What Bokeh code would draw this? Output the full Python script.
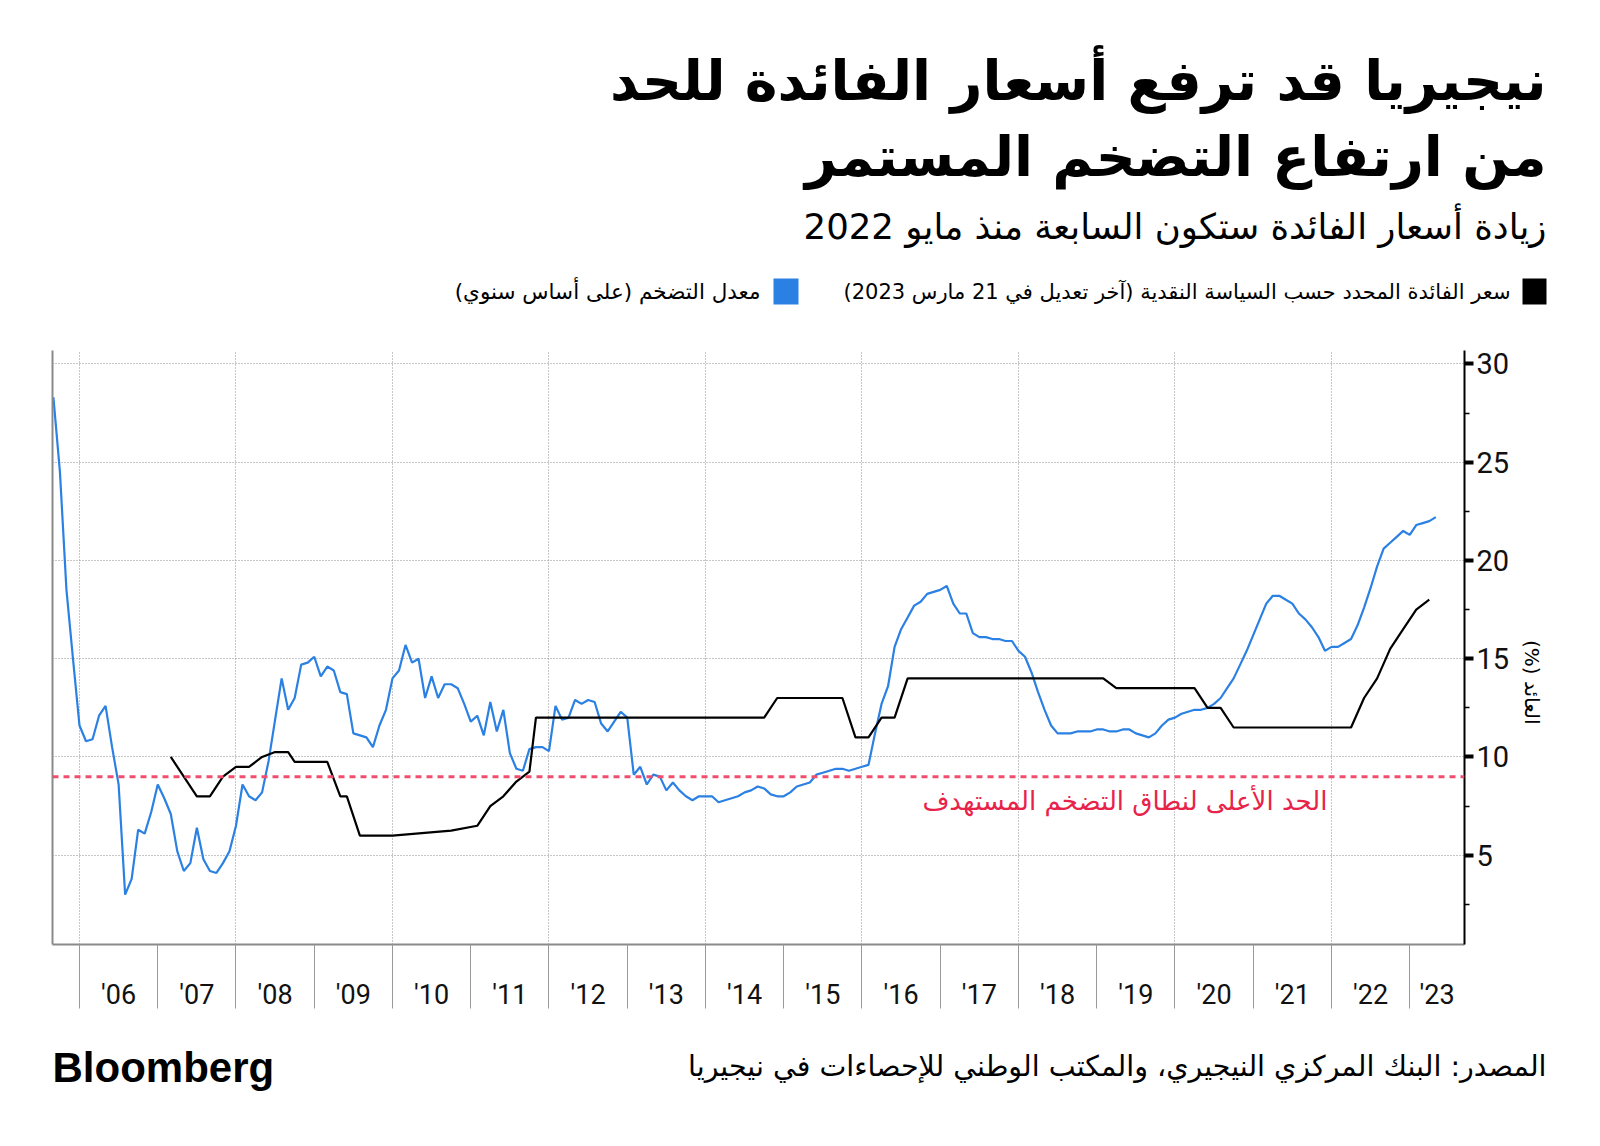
import math
import pandas as pd
from bokeh.plotting import figure
from bokeh.layouts import column, row
from bokeh.models import Range1d, FixedTicker, LinearAxis, Span, Label
from bokeh.core.properties import value
from bokeh.embed import file_html
from bokeh.resources import INLINE

RLM = "\u200f"

# ---------------- texts ----------------
title_line1 = "نيجيريا قد ترفع أسعار الفائدة للحد"
title_line2 = "من ارتفاع التضخم المستمر"
subtitle = "زيادة أسعار الفائدة ستكون السابعة منذ مايو 2022"
legend_rate = "سعر الفائدة المحدد حسب السياسة النقدية (آخر تعديل في 21 مارس 2023)"
legend_cpi = "معدل التضخم (على أساس سنوي)"
y_label = "العائد (%)"
target_label = "الحد الأعلى لنطاق التضخم المستهدف"
source_text = "المصدر: البنك المركزي النيجيري، والمكتب الوطني للإحصاءات في نيجيريا"
brand = "Bloomberg"

# ---------------- axes ----------------
years = list(range(2006, 2024))
year_labels = ["'06", "'07", "'08", "'09", "'10", "'11", "'12", "'13", "'14",
               "'15", "'16", "'17", "'18", "'19", "'20", "'21", "'22", "'23"]
y_ticks = [5, 10, 15, 20, 25, 30]

# ---------------- data ----------------
# Inflation, y/y %, monthly from Aug 2005 to Apr 2023
inflation_start = "2005-08"
inflation_2005 = [28.3, 24.5, 18.5, 15.0, 11.6]
inflation_2006 = [10.8, 10.9, 12.1, 12.6, 10.5, 8.6, 3.0, 3.8, 6.3, 6.1, 7.2, 8.6]
inflation_2007 = [7.9, 7.1, 5.2, 4.2, 4.6, 6.4, 4.8, 4.2, 4.1, 4.6, 5.2, 6.5]
inflation_2008 = [8.6, 8.0, 7.8, 8.2, 9.8, 11.9, 14.0, 12.4, 13.0, 14.7, 14.8, 15.1]
inflation_2009 = [14.1, 14.6, 14.4, 13.3, 13.2, 11.2, 11.1, 11.0, 10.5, 11.6, 12.4, 14.0]
inflation_2010 = [14.4, 15.7, 14.8, 15.0, 13.0, 14.1, 13.0, 13.7, 13.7, 13.5, 12.7, 11.8]
inflation_2011 = [12.1, 11.1, 12.8, 11.3, 12.4, 10.2, 9.4, 9.3, 10.4, 10.5, 10.5, 10.3]
inflation_2012 = [12.6, 11.9, 12.0, 12.9, 12.7, 12.9, 12.8, 11.7, 11.3, 11.8, 12.3, 12.0]
inflation_2013 = [9.1, 9.5, 8.6, 9.1, 9.0, 8.3, 8.7, 8.3, 8.0, 7.8, 8.0, 8.0]
inflation_2014 = [8.0, 7.7, 7.8, 7.9, 8.0, 8.2, 8.3, 8.5, 8.4, 8.1, 8.0, 8.0]
inflation_2015 = [8.2, 8.5, 8.6, 8.7, 9.1, 9.2, 9.3, 9.4, 9.4, 9.3, 9.4, 9.5]
inflation_2016 = [9.6, 11.2, 12.7, 13.6, 15.6, 16.5, 17.1, 17.7, 17.9, 18.3, 18.4, 18.5]
inflation_2017 = [18.7, 17.8, 17.3, 17.3, 16.3, 16.1, 16.1, 16.0, 16.0, 15.9, 15.9, 15.4]
inflation_2018 = [15.1, 14.3, 13.3, 12.4, 11.6, 11.2, 11.2, 11.2, 11.3, 11.3, 11.3, 11.4]
inflation_2019 = [11.4, 11.3, 11.3, 11.4, 11.4, 11.2, 11.1, 11.0, 11.2, 11.6, 11.9, 12.0]
inflation_2020 = [12.2, 12.3, 12.4, 12.4, 12.5, 12.7, 13.0, 13.5, 14.0, 14.7, 15.4, 16.2]
inflation_2021 = [17.0, 17.8, 18.2, 18.2, 18.0, 17.8, 17.3, 17.0, 16.6, 16.1, 15.4, 15.6]
inflation_2022 = [15.6, 15.8, 16.0, 16.7, 17.6, 18.6, 19.7, 20.6, 20.9, 21.2, 21.5, 21.3]
inflation_2023 = [21.8, 21.9, 22.0, 22.2]

# Monetary policy rate, %, at the end of the listed months
rate_months = ["2007-02", "2007-06", "2007-08", "2007-10", "2007-12", "2008-02", "2008-04",
               "2008-06", "2008-08", "2008-09", "2009-02", "2009-04", "2009-05", "2009-07",
               "2009-12", "2010-09", "2011-01", "2011-03", "2011-05", "2011-07", "2011-09",
               "2011-10", "2014-09", "2014-11", "2015-09", "2015-11", "2016-01", "2016-03",
               "2016-05", "2016-07", "2019-01", "2019-03", "2020-03", "2020-05", "2020-07",
               "2020-09", "2022-03", "2022-05", "2022-07", "2022-09", "2022-11", "2023-01",
               "2023-03"]
rate_values = [10.0, 8.0, 8.0, 9.0, 9.5, 9.5, 10.0,
               10.25, 10.25, 9.75, 9.75, 8.0, 8.0, 6.0,
               6.0, 6.25, 6.5, 7.5, 8.0, 8.75, 9.25,
               12.0, 12.0, 13.0, 13.0, 11.0, 11.0, 12.0,
               12.0, 14.0, 14.0, 13.5, 13.5, 12.5, 12.5,
               11.5, 11.5, 13.0, 14.0, 15.5, 16.5, 17.5,
               18.0]

target_upper = 9.0

# ---------------- build ----------------
inflation = (inflation_2005 + inflation_2006 + inflation_2007 + inflation_2008 + inflation_2009
             + inflation_2010 + inflation_2011 + inflation_2012 + inflation_2013 + inflation_2014
             + inflation_2015 + inflation_2016 + inflation_2017 + inflation_2018 + inflation_2019
             + inflation_2020 + inflation_2021 + inflation_2022 + inflation_2023)
periods = pd.period_range(inflation_start, periods=len(inflation), freq="M")
x_inf = [p_.year + p_.month / 12 for p_ in periods]


def month_end(s):
    y, m = s.split("-")
    return int(y) + int(m) / 12


x_rate = [month_end(s) for s in rate_months]

BLUE = "#2b80e3"
FONT = "DejaVu Sans"
NUM_FONT = "Roboto"
W = 1584


def blank(width, height):
    f = figure(width=width, height=height, x_range=Range1d(0, width), y_range=Range1d(height, 0),
               output_backend="svg", toolbar_location=None, x_axis_type=None, y_axis_type=None,
               min_border=0, outline_line_color=None, background_fill_color="white",
               border_fill_color="white")
    f.grid.visible = False
    return f


def txt(f, text, x, y, size, font=FONT, style="normal", color="#000000", align="right",
        baseline="alphabetic", angle=0.0):
    f.text(x=[x], y=[y], text=[text], text_font=value(font), text_font_size=value(size),
           text_font_style=style, text_color=color, text_align=align,
           text_baseline=baseline, angle=angle)


# ---------------- header (pixel coordinates) ----------------
HEAD_H = 340
head = blank(W, HEAD_H)
txt(head, title_line1, 1546, 80, "55.5px", style="bold")
txt(head, title_line2, 1546, 156, "55.5px", style="bold")
txt(head, subtitle, 1546, 226, "35.5px")
head.quad(left=[1522], right=[1546], top=[278], bottom=[304], fill_color="black", line_color=None)
txt(head, legend_rate + RLM, 1510, 291, "21px", baseline="middle")
head.quad(left=[773], right=[798], top=[278], bottom=[304], fill_color=BLUE, line_color=None)
txt(head, legend_cpi + RLM, 760, 291, "21.5px", baseline="middle")

# ---------------- main chart ----------------
X0, X1 = 2005.655, 2023.70
MAIN_W, MAIN_H = 1514, 684
p = figure(width=MAIN_W, height=MAIN_H, x_range=Range1d(X0, X1), y_range=Range1d(0.46, 30.68),
           output_backend="svg", toolbar_location=None, y_axis_location="right",
           min_border_left=52, min_border_right=50, min_border_top=10, min_border_bottom=80,
           outline_line_color=None, background_fill_color="white", border_fill_color="white")

p.xgrid.ticker = FixedTicker(ticks=years[::2])
p.ygrid.ticker = FixedTicker(ticks=y_ticks)
for g in (p.xgrid[0], p.ygrid[0]):
    g.grid_line_color = "#8f8f8f"
    g.grid_line_dash = "1 2"
    g.grid_line_width = 1

p.line(x_inf, inflation, line_color=BLUE, line_width=2.2)
p.line(x_rate, rate_values, line_color="black", line_width=2.2)
p.add_layout(Span(location=target_upper, dimension="width", line_color="#ef4f6d",
                  line_width=3, line_dash="6 5"))

mids = [round((max(y, X0) + min(y + 1, X1)) / 2, 4) for y in years]
xa = p.xaxis[0]
xa.ticker = FixedTicker(ticks=mids, minor_ticks=years)
xa.major_label_overrides = {m: lab for m, lab in zip(mids, year_labels)}
xa.axis_line_color = "#8a8a8a"
xa.axis_line_width = 2
xa.major_tick_line_color = None
xa.major_tick_out = 0
xa.major_tick_in = 0
xa.minor_tick_line_color = "#9a9a9a"
xa.minor_tick_line_width = 1
xa.minor_tick_out = 64
xa.minor_tick_in = 0
xa.major_label_standoff = -30
xa.major_label_text_font = NUM_FONT
xa.major_label_text_font_size = "27px"
xa.major_label_text_color = "#111111"

ya = p.yaxis[0]
ya.ticker = FixedTicker(ticks=y_ticks, minor_ticks=[t - 2.5 for t in y_ticks])
ya.axis_line_color = "black"
ya.axis_line_width = 2
ya.major_tick_line_color = "black"
ya.major_tick_line_width = 4
ya.major_tick_out = 9
ya.major_tick_in = 0
ya.minor_tick_line_color = "black"
ya.minor_tick_line_width = 1.5
ya.minor_tick_out = 5
ya.minor_tick_in = 0
ya.major_label_standoff = 3
ya.major_label_text_font = NUM_FONT
ya.major_label_text_font_size = "29px"
ya.major_label_text_color = "#111111"

la = LinearAxis(ticker=FixedTicker(ticks=[]), axis_line_color="#8a8a8a", axis_line_width=2,
                major_tick_line_color=None, minor_tick_line_color=None)
p.add_layout(la, "left")

p.add_layout(Label(x=1275, y=144, x_units="screen", y_units="screen", text=target_label,
                   text_font=FONT, text_font_size="26px", text_color="#e8234a",
                   text_align="right", text_baseline="middle"))

# ---------------- side strip with the rotated axis title ----------------
side = blank(W - MAIN_W, MAIN_H)
txt(side, y_label + RLM, 17, 382, "20px", align="center", baseline="middle", angle=-math.pi / 2)

# ---------------- footer ----------------
FOOT_H = 1130 - HEAD_H - MAIN_H
foot = blank(W, FOOT_H)
txt(foot, source_text, 1546, 42, "28.5px", baseline="middle")
txt(foot, brand, 52, 43, "42px", font="Liberation Sans", style="bold", align="left",
    baseline="middle")

layout = column(head, row(p, side), foot)
open("out.html", "w").write(file_html(layout, INLINE))
